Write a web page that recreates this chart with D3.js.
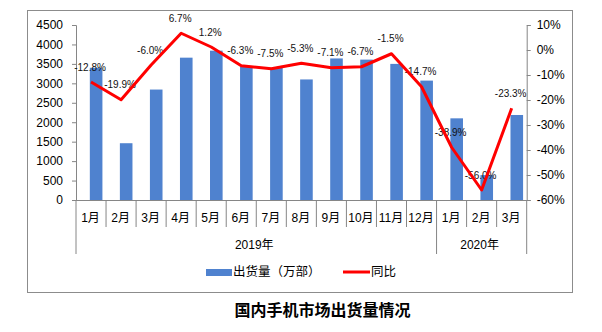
<!DOCTYPE html>
<html><head><meta charset="utf-8">
<script src="https://cdn.jsdelivr.net/npm/d3@7"></script>
<style>
body{margin:0;background:#fff;}
svg{display:block;}
</style></head>
<body>
<svg id="c" width="602" height="332"></svg>
<script>
const months = ["1月","2月","3月","4月","5月","6月","7月","8月","9月","10月","11月","12月","1月","2月","3月"];
const years = [{label:"2019年", from:0, to:12},{label:"2020年", from:12, to:15}];
const shipments = [3400, 1460, 2840, 3660, 3840, 3420, 3400, 3100, 3640, 3610, 3500, 3070, 2100, 640, 2186];
const yoy = [-12.8, -19.9, -6.0, 6.7, 1.2, -6.3, -7.5, -5.3, -7.1, -6.7, -1.5, -14.7, -38.9, -56.0, -23.3];
const leftTicks = [0,500,1000,1500,2000,2500,3000,3500,4000,4500];
const rightTicks = [10,0,-10,-20,-30,-40,-50,-60];
const legendLabels = ["出货量（万部）","同比"];
const title = "国内手机市场出货量情况";

const svg = d3.select("#c");
const W = 602, H = 332;
const plotL = 76, plotR = 526.7, plotT = 25, plotB = 200;
const axisColor = "#868686";
const barColor = "#4f82cf";
const lineColor = "#ff0000";
const numFont = "'Liberation Sans', Arial, sans-serif";
const cjkFont = "'Liberation Sans', 'Noto Sans CJK SC', sans-serif";

// frame
svg.append("rect").attr("x",27.5).attr("y",10.5).attr("width",545).attr("height",282)
  .attr("fill","none").attr("stroke","#8c8c8c").attr("stroke-width",1);

const x = d3.scaleBand().domain(d3.range(months.length)).range([plotL, plotR]).padding(0);
const yL = d3.scaleLinear().domain([0,4500]).range([plotB, plotT]);
const yR = d3.scaleLinear().domain([-60,10]).range([plotB, plotT]);

// left axis
const gL = svg.append("g").attr("transform",`translate(${plotL},0)`)
  .call(d3.axisLeft(yL).tickValues(leftTicks).tickSize(4).tickPadding(9).tickFormat(d3.format("d")));
gL.selectAll("path,line").attr("stroke",axisColor);
gL.selectAll("text").attr("font-family",numFont).attr("font-size",12).attr("fill","#000");

// right axis
const gR = svg.append("g").attr("transform",`translate(${plotR},0)`)
  .call(d3.axisRight(yR).tickValues(rightTicks).tickSize(4).tickPadding(6).tickFormat(d=>d+"%"));
gR.selectAll("path,line").attr("stroke",axisColor);
gR.selectAll("text").attr("font-family",numFont).attr("font-size",12).attr("fill","#000");

// bars
const bw = 12.6;
svg.append("g").selectAll("rect").data(shipments).join("rect")
  .attr("x",(d,i)=>x(i)+x.bandwidth()/2-1.2)
  .attr("width",bw)
  .attr("y",d=>yL(d))
  .attr("height",d=>yL(0)-yL(d))
  .attr("fill",barColor);

// category axis baseline
svg.append("line").attr("x1",plotL).attr("x2",plotR).attr("y1",plotB+0.5).attr("y2",plotB+0.5)
  .attr("stroke",axisColor);
// separators
const bounds = d3.range(months.length+1);
const groupBounds = new Set([0,12,15]);
svg.append("g").selectAll("line").data(bounds).join("line")
  .attr("x1",i=> i<months.length ? x(i) : plotR)
  .attr("x2",i=> i<months.length ? x(i) : plotR)
  .attr("y1",plotB)
  .attr("y2",i=> groupBounds.has(i) ? 254 : 227)
  .attr("stroke",axisColor);
// month labels
svg.append("g").selectAll("text").data(months).join("text")
  .attr("x",(d,i)=>x(i)+x.bandwidth()/2-0.5)
  .attr("y",218)
  .attr("dy","0.35em")
  .attr("text-anchor","middle")
  .attr("font-family",cjkFont).attr("font-size",12).attr("fill","#000")
  .text(d=>d);
// year labels
svg.append("g").selectAll("text").data(years).join("text")
  .attr("x",d=>(x(d.from) + (d.to<months.length ? x(d.to) : plotR))/2 - 2)
  .attr("y",245)
  .attr("dy","0.35em")
  .attr("text-anchor","middle")
  .attr("font-family",cjkFont).attr("font-size",12).attr("fill","#000")
  .text(d=>d.label);

// data labels (drawn beneath the line)
svg.append("g").selectAll("text").data(yoy).join("text")
  .attr("x",(d,i)=>x(i)+x.bandwidth()/2-1)
  .attr("y",d=>yR(d)-15)
  .attr("dy","0.35em")
  .attr("text-anchor","middle")
  .attr("font-family","'Liberation Sans Narrow', 'Liberation Sans', Arial, sans-serif")
  .attr("font-size",10).attr("fill","#111")
  .text(d=>d.toFixed(1)+"%");

// line
const line = d3.line().x((d,i)=>x(i)+x.bandwidth()/2).y(d=>yR(d));
svg.append("path").datum(yoy).attr("d",line)
  .attr("fill","none").attr("stroke",lineColor).attr("stroke-width",3).attr("stroke-linejoin","round");

// legend
const lg = svg.append("g");
lg.append("rect").attr("x",206).attr("y",269).attr("width",26).attr("height",7).attr("fill",barColor);
lg.append("text").attr("x",233).attr("y",272).attr("dy","0.35em")
  .attr("font-family","'Noto Sans CJK SC', sans-serif").attr("font-size",12.5).attr("fill","#000")
  .text(legendLabels[0]);
lg.append("line").attr("x1",343).attr("x2",370).attr("y1",272).attr("y2",272)
  .attr("stroke",lineColor).attr("stroke-width",3);
lg.append("text").attr("x",371).attr("y",272).attr("dy","0.35em")
  .attr("font-family","'Noto Sans CJK SC', sans-serif").attr("font-size",12.5).attr("fill","#000")
  .text(legendLabels[1]);

// title
svg.append("text").attr("x",322.5).attr("y",310).attr("dy","0.35em").attr("text-anchor","middle")
  .attr("font-family","'Noto Sans CJK SC', sans-serif").attr("font-weight","bold").attr("font-size",16).attr("fill","#000")
  .text(title);
</script>
</body></html>
